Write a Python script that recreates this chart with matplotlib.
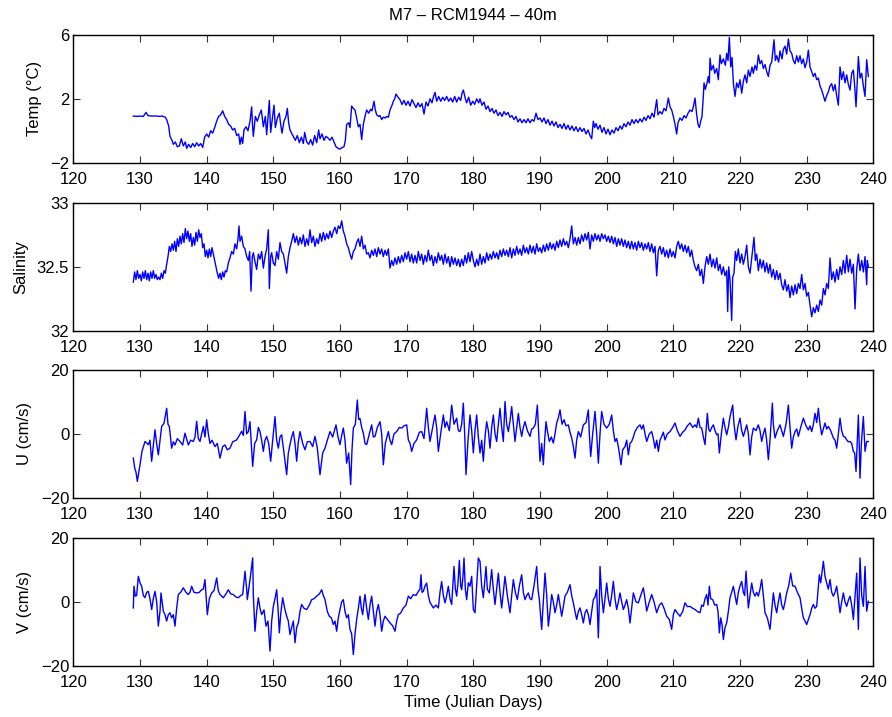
import numpy as np
import matplotlib
matplotlib.use('Agg')
import matplotlib.pyplot as plt

plt.rcParams['font.family'] = ['Liberation Sans', 'DejaVu Sans']
plt.rcParams['font.size'] = 12

# ---- data (Julian day, value) ----
temp_day = [129.0, 129.5, 130.0, 130.5, 130.9, 131.2, 131.8, 132.3, 132.8, 133.3, 133.8, 134.0, 134.3, 134.5, 134.8,
            135.0, 135.3, 135.6, 135.9, 136.2, 136.5, 136.8, 137.0, 137.3, 137.6, 137.9, 138.2, 138.5, 138.8, 139.1,
            139.4, 139.7, 140.0, 140.3, 140.6, 140.9, 141.2, 141.5, 141.8, 142.1, 142.4, 142.7, 143.0, 143.3, 143.6,
            143.9, 144.2, 144.5, 144.8, 145.0, 145.2, 145.4, 145.6, 145.9, 146.2, 146.5, 146.75, 146.9, 147.0, 147.3,
            147.6, 147.9, 148.2, 148.5, 148.8, 149.0, 149.2, 149.4, 149.6, 149.9, 150.1, 150.3, 150.6, 150.9, 151.1,
            151.3, 151.6, 151.9, 152.1, 152.3, 152.5, 152.8, 153.0, 153.3, 153.6, 153.9, 154.2, 154.5, 154.7, 155.0,
            155.3, 155.6, 155.9, 156.2, 156.5, 156.8, 157.0, 157.3, 157.6, 157.9, 158.2, 158.5, 158.8, 159.1, 159.4,
            159.7, 160.0, 160.3, 160.6, 160.8, 161.0, 161.3, 161.5, 161.75, 162.0, 162.25, 162.5, 162.75, 163.0, 163.25,
            163.5, 163.75, 164.0, 164.3, 164.6, 164.8, 165.1, 165.3, 165.5, 165.8, 166.0, 166.25, 166.5, 166.8, 167.0,
            167.25, 167.5, 167.8, 168.0, 168.2, 168.4, 168.7, 169.0, 169.3, 169.6, 169.9, 170.2, 170.5, 170.8, 171.1,
            171.4, 171.7, 172.0, 172.3, 172.6, 172.9, 173.2, 173.5, 173.8, 174.0, 174.25, 174.5, 174.8, 175.1, 175.4,
            175.7, 176.0, 176.3, 176.6, 176.9, 177.2, 177.5, 177.8, 178.1, 178.3, 178.5, 178.8, 179.0, 179.3, 179.6,
            179.9, 180.2, 180.5, 180.8, 181.0, 181.3, 181.6, 181.9, 182.2, 182.5, 182.8, 183.1, 183.4, 183.7, 184.0,
            184.3, 184.6, 184.9, 185.2, 185.5, 185.8, 186.1, 186.4, 186.7, 187.0, 187.3, 187.6, 187.9, 188.2, 188.5,
            188.8, 189.1, 189.4, 189.7, 190.0, 190.3, 190.6, 190.9, 191.2, 191.5, 191.8, 192.1, 192.4, 192.7, 193.0,
            193.3, 193.6, 193.9, 194.2, 194.5, 194.8, 195.1, 195.4, 195.7, 196.0, 196.3, 196.6, 196.9, 197.2, 197.5,
            197.75, 198.0, 198.2, 198.4, 198.7, 199.0, 199.3, 199.6, 199.9, 200.2, 200.5, 200.8, 201.1, 201.4, 201.7,
            202.0, 202.3, 202.6, 202.9, 203.2, 203.5, 203.8, 204.1, 204.4, 204.7, 205.0, 205.3, 205.6, 205.9, 206.2,
            206.5, 206.8, 207.1, 207.5, 207.7, 208.0, 208.3, 208.6, 208.9, 209.25, 209.5, 209.75, 210.0, 210.25, 210.5,
            210.7, 211.0, 211.3, 211.6, 211.9, 212.2, 212.5, 212.8, 213.0, 213.25, 213.5, 213.7, 213.9, 214.1, 214.3,
            214.5, 214.6, 214.8, 215.0, 215.25, 215.4, 215.5, 215.7, 216.0, 216.2, 216.5, 216.75, 217.0, 217.2, 217.5,
            217.8, 218.0, 218.2, 218.4, 218.6, 218.8, 219.0, 219.25, 219.5, 219.75, 220.0, 220.25, 220.5, 220.75, 221.0,
            221.25, 221.5, 221.8, 222.0, 222.25, 222.5, 222.75, 223.0, 223.25, 223.5, 223.75, 224.0, 224.25, 224.5, 224.75,
            225.1, 225.3, 225.5, 225.8, 226.0, 226.3, 226.5, 226.75, 227.0, 227.25, 227.5, 227.75, 228.0, 228.25, 228.5,
            228.75, 229.0, 229.25, 229.5, 229.75, 230.0, 230.25, 230.5, 230.75, 231.0, 231.25, 231.5, 231.75, 232.0, 232.25,
            232.5, 232.75, 233.0, 233.25, 233.5, 233.75, 234.0, 234.25, 234.5, 234.75, 235.0, 235.25, 235.5, 235.75, 236.0,
            236.25, 236.5, 236.75, 237.0, 237.2, 237.4, 237.6, 237.75, 238.0, 238.25, 238.5, 238.75, 239.0, 239.25]
temp = [0.92, 0.90, 0.92, 0.90, 1.15, 0.95, 0.92, 0.93, 0.90, 0.92, 0.85, 0.70, 0.30, -0.35, -0.60,
        -0.85, -0.70, -1.00, -0.95, -0.50, -0.95, -0.70, -1.10, -0.85, -1.05, -0.80, -1.00, -0.75, -0.95, -0.80,
        -1.05, -0.40, -0.20, -0.40, 0.00, -0.15, 0.20, 0.60, 0.90, 1.00, 1.25, 0.90, 0.70, 0.40, 0.30,
        0.05, 0.15, -0.30, -0.20, -0.85, -0.40, -0.80, 0.05, 0.25, 0.00, 0.60, 1.50, 0.20, -0.35, 0.90,
        0.60, 1.00, 1.30, 0.25, 0.90, -0.25, 0.80, 1.90, -0.10, 0.90, 1.60, 0.20, 0.80, 1.10, 0.40,
        -0.15, 0.60, 0.90, 1.40, 0.50, 0.05, -0.20, -0.35, -0.60, -0.30, -0.75, -0.40, -0.80, -0.10, -0.70,
        -0.85, -0.55, -0.90, -0.30, -0.75, 0.05, -0.50, -0.20, -0.60, -0.35, -0.45, -0.60, -0.40, -0.70, -1.00,
        -1.10, -1.15, -1.05, -1.00, -0.60, 0.40, 0.50, 0.20, 1.55, 1.40, 1.30, 0.80, 0.25, 0.40, -0.55,
        0.40, 0.90, 1.30, 1.10, 1.35, 1.25, 1.85, 1.30, 1.00, 0.90, 0.95, 0.70, 0.85, 0.80, 0.90,
        0.85, 1.30, 1.60, 1.85, 2.00, 2.30, 2.10, 1.95, 1.65, 1.90, 1.60, 1.85, 1.55, 1.95, 1.70,
        1.45, 1.75, 1.50, 1.70, 1.05, 1.80, 1.55, 2.00, 1.75, 2.10, 2.40, 1.85, 2.15, 1.85, 2.10,
        1.90, 2.15, 1.85, 2.05, 1.80, 2.15, 1.80, 2.10, 1.90, 2.35, 2.55, 2.00, 1.75, 2.10, 1.60,
        1.85, 1.65, 2.00, 1.75, 2.00, 1.60, 1.80, 1.35, 1.55, 1.20, 1.40, 1.10, 1.30, 0.95, 1.15,
        0.90, 1.20, 1.00, 1.15, 0.85, 0.95, 0.70, 0.90, 0.55, 0.75, 0.50, 0.70, 0.50, 0.75, 0.50,
        0.70, 0.60, 1.10, 0.70, 0.80, 0.55, 0.80, 0.45, 0.70, 0.35, 0.60, 0.30, 0.55, 0.20, 0.40,
        0.15, 0.45, 0.10, 0.35, 0.05, 0.30, 0.00, 0.25, -0.05, 0.20, -0.05, 0.15, -0.20, 0.05, -0.30,
        -0.50, 0.60, 0.20, 0.45, 0.10, 0.35, -0.10, 0.20, -0.20, 0.10, -0.25, 0.05, -0.15, 0.20, 0.00,
        0.30, 0.10, 0.45, 0.25, 0.55, 0.35, 0.70, 0.45, 0.70, 0.50, 0.75, 0.55, 0.85, 0.65, 0.95,
        0.75, 1.10, 0.85, 1.95, 1.00, 1.20, 1.05, 1.40, 1.25, 2.05, 1.50, 1.30, 0.90, 0.40, -0.20,
        0.50, 0.80, 0.65, 0.95, 0.80, 1.10, 1.30, 1.20, 1.50, 2.05, 1.00, 0.40, 0.20, 0.60, 0.90,
        2.20, 3.00, 2.60, 2.90, 3.40, 3.00, 4.55, 3.80, 4.10, 3.60, 3.90, 3.20, 4.75, 4.20, 4.50,
        4.10, 4.85, 4.40, 5.85, 4.00, 4.60, 3.00, 2.15, 3.00, 2.70, 3.20, 2.35, 3.10, 3.50, 3.00,
        3.80, 3.40, 4.00, 3.60, 4.10, 3.80, 4.75, 4.20, 4.40, 3.90, 4.15, 3.70, 3.40, 4.10, 4.30,
        5.70, 4.40, 4.70, 4.30, 5.00, 4.50, 5.10, 5.30, 4.80, 5.75, 5.00, 4.85, 4.40, 4.20, 4.70,
        4.30, 4.70, 4.20, 4.50, 3.95, 4.30, 5.05, 4.00, 3.70, 3.40, 3.60, 3.20, 3.30, 2.80, 2.55,
        2.20, 1.85, 2.20, 2.45, 2.80, 2.95, 2.50, 2.90, 2.20, 1.60, 4.00, 3.20, 3.70, 3.00, 3.50,
        2.90, 2.55, 3.60, 3.80, 2.80, 1.50, 3.20, 4.65, 3.30, 3.60, 2.80, 2.15, 4.45, 3.40]

sal_day = [129.0, 129.2, 129.4, 129.6, 129.8, 130.0, 130.2, 130.4, 130.6, 130.8, 131.0, 131.2, 131.4, 131.6, 131.8,
           132.0, 132.2, 132.4, 132.6, 132.8, 133.0, 133.2, 133.4, 133.6, 133.8, 134.0, 134.2, 134.4, 134.6, 134.8,
           135.0, 135.2, 135.4, 135.6, 135.8, 136.0, 136.2, 136.4, 136.6, 136.8, 137.0, 137.2, 137.4, 137.6, 137.8,
           138.0, 138.2, 138.4, 138.6, 138.8, 139.0, 139.2, 139.4, 139.6, 139.8, 140.0, 140.2, 140.4, 140.6, 140.8,
           141.0, 141.2, 141.4, 141.6, 141.8, 142.0, 142.2, 142.4, 142.6, 142.8, 143.0, 143.25, 143.5, 143.75, 144.0,
           144.25, 144.5, 144.7, 144.85, 145.0, 145.25, 145.5, 145.75, 146.0, 146.25, 146.45, 146.65, 146.85, 147.0, 147.25,
           147.5, 147.75, 148.0, 148.25, 148.5, 148.75, 149.0, 149.25, 149.4, 149.6, 149.75, 150.0, 150.25, 150.5, 150.75,
           151.0, 151.25, 151.5, 151.75, 152.0, 152.25, 152.5, 152.75, 153.0, 153.25, 153.5, 153.75, 154.0, 154.25, 154.5,
           154.75, 155.0, 155.25, 155.5, 155.75, 156.0, 156.25, 156.5, 156.75, 157.0, 157.25, 157.5, 157.75, 158.0, 158.25,
           158.5, 158.75, 159.0, 159.25, 159.5, 159.75, 160.0, 160.25, 160.5, 160.75, 161.0, 161.25, 161.5, 161.75, 162.0,
           162.25, 162.5, 162.75, 163.0, 163.25, 163.5, 163.75, 164.0, 164.25, 164.5, 164.75, 165.0, 165.25, 165.5, 165.75,
           166.0, 166.25, 166.5, 166.75, 167.0, 167.25, 167.5, 167.75, 168.0, 168.25, 168.5, 168.75, 169.0, 169.25, 169.5,
           169.75, 170.0, 170.25, 170.5, 170.75, 171.0, 171.25, 171.5, 171.75, 172.0, 172.25, 172.5, 172.75, 173.0, 173.25,
           173.5, 173.75, 174.0, 174.25, 174.5, 174.75, 175.0, 175.25, 175.5, 175.75, 176.0, 176.25, 176.5, 176.75, 177.0,
           177.25, 177.5, 177.75, 178.0, 178.25, 178.5, 178.75, 179.0, 179.25, 179.5, 179.75, 180.0, 180.25, 180.5, 180.75,
           181.0, 181.25, 181.5, 181.75, 182.0, 182.25, 182.5, 182.75, 183.0, 183.25, 183.5, 183.75, 184.0, 184.25, 184.5,
           184.75, 185.0, 185.25, 185.5, 185.75, 186.0, 186.25, 186.5, 186.75, 187.0, 187.25, 187.5, 187.75, 188.0, 188.25,
           188.5, 188.75, 189.0, 189.25, 189.5, 189.75, 190.0, 190.25, 190.5, 190.75, 191.0, 191.25, 191.5, 191.75, 192.0,
           192.25, 192.5, 192.75, 193.0, 193.25, 193.5, 193.75, 194.0, 194.25, 194.5, 194.75, 195.0, 195.25, 195.5, 195.75,
           196.0, 196.25, 196.5, 196.75, 197.0, 197.25, 197.5, 197.75, 198.0, 198.25, 198.5, 198.75, 199.0, 199.25, 199.5,
           199.75, 200.0, 200.25, 200.5, 200.75, 201.0, 201.25, 201.5, 201.75, 202.0, 202.25, 202.5, 202.75, 203.0, 203.25,
           203.5, 203.75, 204.0, 204.25, 204.5, 204.75, 205.0, 205.25, 205.5, 205.75, 206.0, 206.25, 206.5, 206.75, 207.0,
           207.25, 207.5, 207.75, 208.0, 208.25, 208.5, 208.75, 209.0, 209.25, 209.5, 209.75, 210.0, 210.25, 210.5, 210.75,
           211.0, 211.25, 211.5, 211.75, 212.0, 212.25, 212.5, 212.75, 213.0, 213.25, 213.5, 213.75, 214.0, 214.25, 214.5,
           214.75, 215.0, 215.25, 215.5, 215.75, 216.0, 216.25, 216.5, 216.75, 217.0, 217.25, 217.5, 217.75, 218.0, 218.15,
           218.3, 218.5, 218.75, 218.9, 219.1, 219.3, 219.5, 219.75, 220.0, 220.25, 220.5, 220.75, 221.0, 221.25, 221.5,
           221.75, 222.1, 222.3, 222.5, 222.75, 223.0, 223.25, 223.5, 223.75, 224.0, 224.25, 224.5, 224.75, 225.0, 225.25,
           225.5, 225.75, 226.0, 226.25, 226.5, 226.75, 227.0, 227.25, 227.5, 227.75, 228.0, 228.25, 228.5, 228.75, 229.0,
           229.25, 229.5, 229.75, 230.0, 230.25, 230.5, 230.75, 231.0, 231.25, 231.5, 231.75, 232.0, 232.25, 232.5, 232.75,
           233.0, 233.25, 233.5, 233.75, 234.0, 234.25, 234.5, 234.75, 235.0, 235.25, 235.5, 235.75, 236.0, 236.25, 236.5,
           236.75, 237.0, 237.25, 237.5, 237.75, 238.0, 238.25, 238.5, 238.75, 239.0, 239.1, 239.25]
salinity = [32.38, 32.46, 32.40, 32.47, 32.41, 32.44, 32.39, 32.46, 32.41, 32.47, 32.40, 32.45, 32.39, 32.46, 32.41,
            32.47, 32.41, 32.44, 32.40, 32.42, 32.40, 32.45, 32.41, 32.47, 32.45, 32.52, 32.58, 32.66, 32.62, 32.68,
            32.63, 32.70, 32.62, 32.72, 32.66, 32.74, 32.68, 32.76, 32.69, 32.80, 32.72, 32.78, 32.70, 32.76, 32.66,
            32.73, 32.67, 32.77, 32.70, 32.79, 32.73, 32.76, 32.65, 32.68, 32.58, 32.63, 32.57, 32.64, 32.58, 32.65,
            32.60, 32.55, 32.50, 32.45, 32.41, 32.45, 32.40, 32.46, 32.42, 32.47, 32.46, 32.53, 32.57, 32.62, 32.60,
            32.68, 32.64, 32.72, 32.82, 32.70, 32.74, 32.66, 32.64, 32.58, 32.55, 32.62, 32.31, 32.58, 32.61, 32.54,
            32.48, 32.60, 32.56, 32.62, 32.49, 32.58, 32.64, 32.79, 32.33, 32.58, 32.61, 32.53, 32.51, 32.62, 32.56,
            32.69, 32.62, 32.60, 32.53, 32.45, 32.58, 32.65, 32.70, 32.76, 32.69, 32.74, 32.67, 32.73, 32.68, 32.75,
            32.66, 32.72, 32.67, 32.79, 32.69, 32.74, 32.66, 32.72, 32.68, 32.76, 32.70, 32.77, 32.71, 32.76, 32.72,
            32.78, 32.73, 32.78, 32.81, 32.76, 32.82, 32.80, 32.86, 32.78, 32.74, 32.68, 32.65, 32.60, 32.56, 32.62,
            32.64, 32.69, 32.72, 32.66, 32.74, 32.64, 32.67, 32.60, 32.61, 32.57, 32.63, 32.59, 32.64, 32.58, 32.65,
            32.60, 32.64, 32.58, 32.63, 32.59, 32.64, 32.49, 32.55, 32.51, 32.57, 32.52, 32.58, 32.53, 32.59, 32.54,
            32.61, 32.56, 32.62, 32.54, 32.60, 32.53, 32.59, 32.53, 32.62, 32.55, 32.60, 32.52, 32.59, 32.54, 32.63,
            32.55, 32.59, 32.51, 32.58, 32.53, 32.61, 32.55, 32.59, 32.52, 32.60, 32.53, 32.58, 32.50, 32.58, 32.52,
            32.57, 32.51, 32.56, 32.50, 32.56, 32.51, 32.59, 32.53, 32.61, 32.54, 32.62, 32.55, 32.50, 32.56, 32.51,
            32.60, 32.52, 32.58, 32.53, 32.61, 32.55, 32.60, 32.56, 32.62, 32.57, 32.61, 32.56, 32.63, 32.58, 32.64,
            32.59, 32.63, 32.58, 32.65, 32.57, 32.64, 32.59, 32.66, 32.60, 32.64, 32.59, 32.67, 32.61, 32.65, 32.60,
            32.67, 32.61, 32.66, 32.60, 32.68, 32.62, 32.65, 32.61, 32.67, 32.62, 32.68, 32.63, 32.69, 32.64, 32.68,
            32.63, 32.70, 32.65, 32.71, 32.66, 32.72, 32.67, 32.70, 32.65, 32.72, 32.82, 32.68, 32.73, 32.67, 32.73,
            32.68, 32.75, 32.70, 32.76, 32.71, 32.77, 32.64, 32.75, 32.70, 32.76, 32.71, 32.75, 32.70, 32.76, 32.72,
            32.75, 32.70, 32.74, 32.69, 32.74, 32.68, 32.73, 32.66, 32.72, 32.67, 32.72, 32.66, 32.71, 32.65, 32.70,
            32.64, 32.70, 32.64, 32.69, 32.63, 32.70, 32.65, 32.69, 32.63, 32.68, 32.64, 32.69, 32.62, 32.68, 32.61,
            32.66, 32.43, 32.63, 32.66, 32.60, 32.65, 32.58, 32.63, 32.57, 32.64, 32.58, 32.62, 32.57, 32.66, 32.70,
            32.64, 32.68, 32.62, 32.67, 32.61, 32.66, 32.58, 32.63, 32.55, 32.50, 32.47, 32.52, 32.43, 32.48, 32.37,
            32.50, 32.58, 32.52, 32.60, 32.50, 32.56, 32.49, 32.57, 32.47, 32.52, 32.44, 32.50, 32.43, 32.47, 32.15,
            32.50, 32.40, 32.08, 32.42, 32.45, 32.62, 32.55, 32.64, 32.53, 32.60, 32.52, 32.58, 32.67, 32.50, 32.45,
            32.57, 32.73, 32.55, 32.60, 32.47, 32.56, 32.49, 32.55, 32.46, 32.53, 32.45, 32.52, 32.42, 32.48, 32.40,
            32.47, 32.40, 32.45, 32.36, 32.32, 32.40, 32.31, 32.36, 32.26, 32.35, 32.28, 32.36, 32.29, 32.37, 32.33,
            32.44, 32.32, 32.37, 32.27, 32.30, 32.20, 32.11, 32.18, 32.14, 32.20, 32.15, 32.24, 32.20, 32.33, 32.28,
            32.37, 32.33, 32.57, 32.40, 32.46, 32.38, 32.48, 32.40, 32.50, 32.44, 32.55, 32.45, 32.59, 32.46, 32.56,
            32.45, 32.52, 32.17, 32.48, 32.60, 32.47, 32.55, 32.46, 32.58, 32.36, 32.55, 32.50]

u_day = [129.0, 129.2, 129.4, 129.6, 130.0, 130.3, 130.75, 131.25, 131.5, 131.75, 132.25, 132.5, 132.75, 133.25, 133.6,
         134.0, 134.2, 134.4, 134.75, 135.0, 135.25, 135.6, 136.0, 136.4, 136.75, 137.25, 137.6, 138.0, 138.25, 138.5,
         138.75, 139.0, 139.5, 139.75, 140.0, 140.25, 140.5, 140.8, 141.25, 141.6, 142.0, 142.4, 142.75, 143.1, 143.5,
         143.9, 144.5, 144.9, 145.25, 145.5, 145.75, 146.0, 146.25, 146.5, 146.9, 147.2, 147.5, 147.75, 148.0, 148.25,
         148.5, 148.75, 149.0, 149.3, 149.6, 149.9, 150.25, 150.5, 150.75, 151.0, 151.25, 151.6, 152.0, 152.25, 152.5,
         152.75, 153.0, 153.25, 153.5, 153.75, 154.0, 154.4, 154.75, 155.1, 155.5, 155.9, 156.25, 156.6, 157.0, 157.4,
         157.75, 158.1, 158.5, 158.9, 159.4, 159.7, 160.0, 160.25, 160.5, 160.75, 161.0, 161.3, 161.6, 161.8, 162.0,
         162.3, 162.6, 162.8, 163.0, 163.25, 163.5, 163.75, 164.0, 164.4, 164.75, 165.0, 165.25, 165.6, 166.0, 166.25,
         166.5, 166.8, 167.25, 167.5, 167.75, 168.1, 168.5, 168.9, 169.25, 169.6, 170.0, 170.25, 170.5, 170.75, 171.1,
         171.5, 171.9, 172.25, 172.6, 173.0, 173.25, 173.5, 173.9, 174.25, 174.5, 174.75, 175.1, 175.5, 175.75, 176.0,
         176.4, 176.75, 177.1, 177.5, 177.75, 178.0, 178.25, 178.5, 178.7, 178.9, 179.2, 179.5, 179.75, 180.0, 180.25,
         180.5, 180.75, 181.0, 181.25, 181.5, 181.75, 182.0, 182.25, 182.5, 182.75, 183.0, 183.25, 183.5, 183.75, 184.0,
         184.25, 184.5, 184.75, 185.0, 185.25, 185.5, 185.75, 186.0, 186.25, 186.5, 186.75, 187.0, 187.25, 187.5, 187.75,
         188.1, 188.5, 188.75, 189.0, 189.3, 189.6, 189.8, 190.0, 190.25, 190.5, 190.7, 190.9, 191.1, 191.4, 191.7,
         192.0, 192.25, 192.5, 192.75, 193.0, 193.3, 193.6, 193.9, 194.25, 194.5, 194.75, 195.0, 195.25, 195.5, 195.75,
         196.1, 196.5, 196.9, 197.25, 197.4, 197.6, 197.9, 198.25, 198.5, 198.75, 199.0, 199.25, 199.6, 200.0, 200.4,
         200.75, 201.0, 201.25, 201.5, 201.75, 202.15, 202.4, 202.75, 203.0, 203.25, 203.5, 203.75, 204.0, 204.25, 204.6,
         205.0, 205.25, 205.5, 205.75, 206.0, 206.4, 206.75, 207.0, 207.25, 207.5, 207.75, 208.0, 208.25, 208.5, 208.75,
         209.1, 209.5, 209.9, 210.25, 210.6, 211.0, 211.4, 211.75, 212.1, 212.5, 212.9, 213.25, 213.5, 213.75, 214.0,
         214.25, 214.5, 214.75, 215.1, 215.3, 215.5, 215.75, 216.0, 216.25, 216.5, 216.7, 216.9, 217.2, 217.5, 217.75,
         218.0, 218.25, 218.5, 218.9, 219.1, 219.4, 219.7, 220.0, 220.25, 220.5, 220.75, 221.0, 221.25, 221.5, 221.75,
         222.0, 222.4, 222.75, 223.0, 223.25, 223.5, 223.75, 224.0, 224.25, 224.5, 224.85, 225.0, 225.25, 225.6, 226.0,
         226.25, 226.5, 226.9, 227.25, 227.5, 227.75, 228.0, 228.25, 228.5, 228.75, 229.1, 229.5, 229.9, 230.25, 230.5,
         230.75, 231.0, 231.25, 231.5, 231.75, 232.0, 232.25, 232.5, 232.75, 233.0, 233.25, 233.6, 234.0, 234.25, 234.5,
         234.75, 235.0, 235.25, 235.5, 235.75, 236.0, 236.25, 236.5, 236.75, 237.0, 237.2, 237.4, 237.6, 237.75, 237.9,
         238.0, 238.2, 238.5, 238.75, 239.0, 239.25]
u_vel = [-7.6, -10.7, -12.0, -14.9, -9.7, -5.5, -2.4, -3.4, -2.0, -8.6, 1.25, -3.0, -6.6, 2.3, 3.3,
         8.0, 3.0, 2.3, -4.5, -2.5, -3.5, -1.5, -2.4, -3.5, 0.2, -3.5, -2.0, -2.4, -1.0, 3.9,
         -1.5, -2.4, 2.3, -1.0, 4.4, 0.0, -3.0, -2.0, -4.0, -3.0, -7.6, -4.0, -3.5, -5.0, -4.5,
         -2.5, -1.9, -0.5, 0.8, -0.5, 7.0, 0.0, 0.7, 3.8, -10.2, -3.0, -1.9, 2.0, 0.7, -2.0,
         -5.5, -2.0, -0.8, -3.0, -8.6, -2.0, 5.4, -2.0, -4.5, -1.0, -0.3, -6.0, -12.8, -6.0, -3.4,
         -1.0, 0.7, -3.0, -8.6, -2.5, 0.7, -3.0, -5.0, -2.5, -2.4, -4.0, -0.8, -4.5, -12.8, -6.0,
         -4.5, -2.0, 0.7, -1.0, 2.8, -1.0, -3.4, -0.5, 1.8, -2.0, -9.2, -6.0, -15.9, -5.0, 1.8,
         3.0, 10.6, 4.5, 4.8, 2.0, 0.2, -3.0, -3.4, 0.0, 2.8, -1.0, -0.8, 2.0, 3.8, 0.0,
         -9.7, -3.0, 0.7, -2.0, -3.4, 0.0, 0.7, 2.0, 1.8, 2.5, 2.8, -1.9, -3.0, -5.5, -3.0,
         -1.9, 0.5, 0.7, -1.5, 8.0, 2.0, -2.4, 2.0, 5.9, 2.0, -5.5, 0.0, 5.9, 2.0, 3.8,
         1.0, 9.0, 3.0, 4.9, 1.0, 0.7, 3.0, 9.6, 0.0, -12.8, -2.0, 5.9, 1.0, -6.0, 1.0,
         5.9, -1.0, -6.0, -2.0, -8.6, -1.0, 3.8, 1.0, -4.5, 2.0, 5.9, 0.0, -2.4, 3.0, 8.0,
         2.0, -2.4, 10.1, 3.0, 0.7, 4.0, 8.5, 3.0, -2.4, 2.0, 6.4, 2.0, -0.8, 2.0, 3.8,
         1.0, -0.8, 1.5, 1.8, 3.0, 9.0, 0.0, -8.6, -3.0, -9.7, -2.0, 3.8, 1.0, -2.4, -1.0,
         -2.9, 0.0, 3.4, 5.0, 7.5, 3.0, 4.4, 2.5, 2.8, 0.5, -1.3, -4.0, -7.6, -2.0, 0.7,
         -1.0, 2.8, 3.5, 7.5, 0.0, -7.1, 0.0, 7.0, 0.0, -9.2, 0.0, 7.0, 3.0, 1.8, 3.0,
         5.9, 1.0, -2.4, -1.5, -4.0, -9.7, -5.0, -4.0, -2.0, -6.6, -3.0, -2.4, -1.0, 0.7, 2.0,
         2.8, 1.5, 2.8, 0.0, -2.4, 0.0, 0.7, -1.5, -4.5, -2.0, -5.5, -2.0, -0.8, 0.5, -1.9,
         0.0, 0.7, 2.0, 3.4, 1.0, -0.8, 0.5, 1.2, 2.5, 3.4, 2.0, 2.8, 2.0, 4.9, 2.0,
         1.8, -1.0, -3.4, 6.4, 1.5, 0.7, 2.0, 2.8, 1.0, -0.3, 0.0, -6.0, 0.0, 4.9, 2.0,
         -0.3, 2.0, 5.4, 9.0, 3.0, -1.9, 2.5, 4.9, 1.0, -0.8, 1.0, 2.8, 0.0, -6.6, -1.0,
         1.8, 1.0, 2.8, 1.0, -2.4, 0.0, 1.8, -2.0, -8.1, -2.0, 9.6, 3.0, -1.3, 1.0, 2.8,
         1.0, -0.8, 3.0, 9.0, 2.0, -4.5, -1.0, 0.7, 1.5, -0.8, 2.0, 4.9, 2.5, 1.2, 2.5,
         0.7, 3.0, 6.4, 3.5, 8.0, 3.0, -0.3, 1.5, 3.4, 1.5, 2.3, 1.0, -1.3, -2.0, -4.5,
         0.0, 4.9, 1.0, -0.8, -1.0, -1.9, -2.5, -2.4, -3.0, -5.5, -6.0, -11.8, -2.0, 5.9, -5.0,
         -13.9, -3.0, 5.4, -5.5, -2.4, -2.4]

v_day = [129.0, 129.1, 129.3, 129.5, 129.75, 130.0, 130.25, 130.5, 130.75, 131.0, 131.25, 131.5, 131.75, 132.0, 132.25,
         132.5, 132.75, 133.0, 133.15, 133.5, 133.75, 134.0, 134.25, 134.5, 134.75, 135.0, 135.25, 135.5, 135.75, 136.1,
         136.5, 136.9, 137.25, 137.5, 137.75, 138.1, 138.5, 138.9, 139.25, 139.5, 139.75, 140.1, 140.4, 140.75, 141.1,
         141.5, 141.75, 142.0, 142.5, 142.9, 143.25, 143.6, 144.0, 144.4, 144.75, 145.1, 145.4, 145.75, 146.0, 146.1,
         146.5, 146.9, 147.0, 147.25, 147.5, 147.75, 148.0, 148.25, 148.6, 148.9, 149.2, 149.5, 149.75, 150.0, 150.25,
         150.5, 150.7, 150.9, 151.1, 151.4, 151.7, 152.0, 152.25, 152.5, 152.75, 153.0, 153.25, 153.5, 153.75, 154.0,
         154.25, 154.6, 155.0, 155.4, 155.75, 156.1, 156.5, 156.9, 157.25, 157.5, 157.75, 158.1, 158.4, 158.7, 159.0,
         159.25, 159.5, 159.75, 160.0, 160.25, 160.5, 160.75, 161.0, 161.25, 161.5, 161.75, 162.0, 162.25, 162.5, 162.75,
         163.0, 163.2, 163.4, 163.6, 163.75, 164.0, 164.25, 164.5, 164.75, 165.0, 165.25, 165.5, 165.75, 166.0, 166.25,
         166.5, 166.75, 167.1, 167.5, 167.9, 168.25, 168.5, 168.75, 169.1, 169.5, 169.9, 170.25, 170.6, 171.0, 171.4,
         171.75, 172.0, 172.15, 172.3, 172.5, 172.75, 173.0, 173.25, 173.5, 173.75, 174.0, 174.4, 174.75, 175.0, 175.25,
         175.5, 175.75, 176.0, 176.25, 176.5, 176.75, 177.1, 177.3, 177.5, 177.7, 177.9, 178.1, 178.25, 178.45, 178.6,
         178.8, 179.0, 179.25, 179.5, 179.75, 180.0, 180.25, 180.5, 180.75, 181.0, 181.25, 181.5, 181.9, 182.1, 182.4,
         182.75, 183.0, 183.25, 183.5, 183.75, 184.0, 184.25, 184.5, 184.75, 185.1, 185.5, 185.75, 186.0, 186.3, 186.6,
         186.9, 187.25, 187.5, 187.75, 188.0, 188.25, 188.5, 188.75, 189.1, 189.5, 189.7, 189.9, 190.25, 190.5, 190.75,
         191.0, 191.25, 191.5, 191.75, 192.0, 192.25, 192.5, 192.75, 193.0, 193.25, 193.5, 193.75, 194.1, 194.5, 194.75,
         195.0, 195.25, 195.5, 195.75, 196.0, 196.25, 196.5, 196.75, 197.0, 197.25, 197.5, 197.75, 198.0, 198.25, 198.5,
         198.75, 198.9, 199.0, 199.25, 199.5, 199.75, 200.0, 200.25, 200.5, 200.75, 201.0, 201.25, 201.5, 201.75, 202.0,
         202.25, 202.5, 202.75, 203.0, 203.25, 203.5, 203.75, 204.0, 204.4, 204.75, 205.1, 205.5, 205.75, 206.0, 206.4,
         206.75, 207.1, 207.5, 207.9, 208.25, 208.6, 209.0, 209.4, 209.75, 210.0, 210.25, 210.6, 211.0, 211.4, 211.75,
         212.1, 212.5, 212.9, 213.25, 213.6, 214.0, 214.25, 214.5, 214.75, 215.0, 215.2, 215.4, 215.6, 215.9, 216.2,
         216.5, 216.7, 216.9, 217.1, 217.3, 217.5, 217.75, 218.0, 218.25, 218.5, 218.75, 219.0, 219.25, 219.5, 219.75,
         220.0, 220.25, 220.5, 220.7, 220.9, 221.1, 221.25, 221.5, 221.75, 222.0, 222.25, 222.5, 222.75, 223.0, 223.25,
         223.5, 223.75, 224.1, 224.5, 224.75, 225.0, 225.25, 225.5, 225.75, 226.0, 226.25, 226.5, 226.75, 227.0, 227.3,
         227.6, 227.9, 228.25, 228.6, 229.0, 229.25, 229.5, 229.75, 230.0, 230.25, 230.5, 230.75, 231.0, 231.25, 231.5,
         231.75, 231.9, 232.1, 232.5, 232.75, 233.0, 233.25, 233.5, 233.75, 234.0, 234.25, 234.5, 234.75, 235.0, 235.25,
         235.5, 235.75, 236.0, 236.25, 236.5, 236.75, 237.0, 237.25, 237.5, 237.75, 238.0, 238.25, 238.5, 238.75, 239.0,
         239.25]
v_vel = [-1.9, 4.9, 1.8, 2.0, 8.0, 6.0, 4.9, 2.0, 1.3, 3.0, 3.3, 1.0, -2.4, 1.0, 3.3,
         0.0, -7.6, -3.0, 2.8, -2.9, -4.0, -6.0, -4.0, -3.4, -5.0, -4.0, -7.6, -2.0, 2.3, 3.0,
         4.4, 3.0, 2.3, 3.0, 4.9, 3.0, 2.8, 3.0, 3.8, 4.0, 7.0, -4.0, 1.0, 2.8, 3.5,
         7.5, 3.5, 2.3, 1.3, 2.5, 3.8, 2.5, 2.3, 1.5, 1.3, 2.0, 2.3, 9.6, 4.0, 0.7,
         7.0, 13.75, 2.0, -9.2, -3.0, 1.3, -2.0, -4.0, -2.5, -7.6, -6.0, -15.4, -6.0, -1.4, 1.0,
         3.8, -2.0, -9.7, -4.0, 1.3, -2.0, -4.5, -6.0, -10.2, -8.0, -6.0, -12.8, -8.0, -6.6, -3.0,
         -0.8, -2.0, -2.4, -1.0, 0.7, 1.0, 1.8, 2.5, 3.8, 2.0, 0.7, -3.0, -4.5, -5.0, -7.1,
         -6.0, -9.2, -5.0, -2.4, 0.0, 0.7, -3.0, -5.0, -4.0, -8.6, -10.0, -16.5, -10.0, -5.5, -2.0,
         1.8, -2.0, -4.0, 0.0, 2.3, -2.0, -5.5, -1.0, 1.8, -3.0, -7.6, -3.0, -0.8, -4.0, -9.2,
         -6.0, -4.5, -5.5, -6.6, -7.5, -9.2, -6.0, -4.0, -3.5, -1.9, -1.0, 1.8, 1.0, 2.3, 2.0,
         3.3, 4.0, 8.5, 3.0, 3.3, 5.0, 5.9, 2.0, -0.2, -1.0, -1.9, -1.0, -1.9, 3.0, 6.4,
         2.0, -0.3, 2.0, 4.9, 1.0, -0.8, 11.1, 4.0, 1.8, 6.0, 13.0, 5.0, 3.8, 8.0, 13.75,
         4.0, 0.7, 6.0, 4.9, 8.0, -2.4, -3.4, 5.0, 13.75, 12.7, 5.0, 1.3, 11.1, 4.0, 2.8,
         10.1, 4.0, -0.8, 4.0, 9.0, 3.0, -1.9, 3.0, 8.0, 2.0, -3.4, 2.0, 7.0, 3.0, 0.7,
         5.0, 8.5, 3.0, 0.7, 2.0, 2.8, 1.0, 0.7, 5.0, 11.1, 4.0, 0.7, -8.6, 0.0, 9.0,
         2.0, -7.6, -3.0, 2.3, 0.0, -3.4, -1.0, 2.3, -1.0, -4.5, -1.5, 1.8, 3.0, 5.4, 2.0,
         -0.3, -3.0, -5.5, -3.0, -1.9, -4.0, -6.6, -3.5, -2.4, -4.0, -7.1, -3.0, 0.7, 1.5, 3.8,
         -11.25, 0.0, 11.1, 2.0, -3.4, 1.0, 5.9, 1.0, -1.4, 2.0, 6.4, 1.0, -2.4, 0.0, 2.8,
         0.0, -2.4, -1.0, 0.7, -2.0, -6.6, -2.0, 2.8, 0.0, -0.3, 2.0, 4.4, 1.0, -2.9, 0.0,
         2.3, 0.0, -3.4, -1.0, -0.3, -2.0, -4.5, -5.5, -8.6, -4.0, -2.4, -3.5, -4.5, -3.0, -0.3,
         -1.5, -1.4, -2.0, -2.4, -3.0, -3.4, -1.0, -1.4, 1.0, 2.3, -1.0, 4.9, 1.0, 0.7, -1.0,
         -0.8, -3.0, -9.7, -5.0, -7.0, -11.8, -8.0, -6.6, -3.0, 1.3, 3.0, 4.9, 2.0, -0.8, 3.0,
         5.0, 6.4, 3.0, 2.0, 9.6, 3.0, -1.9, 2.0, 5.9, 3.0, 1.8, 3.0, 1.8, 4.0, 7.0,
         2.0, -3.4, -5.0, -8.6, -3.0, 2.8, -1.0, -3.4, 0.0, 2.8, -1.0, -2.4, 0.0, 2.8, 5.0,
         9.0, 5.0, 4.9, 3.0, 1.3, -2.0, -5.0, -6.0, -7.1, -5.5, -4.0, -2.0, -0.8, -2.0, -1.4,
         5.0, 8.5, 6.0, 12.7, 8.0, 5.9, 4.0, 7.0, 3.0, 1.8, 3.0, 4.9, 1.0, -3.4, 0.0,
         2.8, 0.0, -1.4, 0.5, 1.8, -1.0, -5.5, 2.0, 9.0, -8.6, 13.75, 2.0, -1.4, 11.1, -2.9,
         0.2]

panels = [
    (temp_day, temp, 'Temp (°C)', (-2, 6), [-2, 2, 6]),
    (sal_day, salinity, 'Salinity', (32, 33), [32, 32.5, 33]),
    (u_day, u_vel, 'U (cm/s)', (-20, 20), [-20, 0, 20]),
    (v_day, v_vel, 'V (cm/s)', (-20, 20), [-20, 0, 20]),
]
day_ticks = list(range(120, 250, 10))

fig = plt.figure(figsize=(8.92, 7.17), dpi=100)
bottoms = [0.7731, 0.5388, 0.3059, 0.0715]

for k, (x, y, lab, lim, yt) in enumerate(panels):
    ax = fig.add_axes([0.0822, bottoms[k], 0.8969, 0.1781])
    ax.plot(x, y, color='#0000ff', lw=1.0)
    ax.set_xlim(120, 240)
    ax.set_ylim(*lim)
    ax.set_xticks(day_ticks)
    ax.set_yticks(yt)
    ax.set_yticklabels([('%g' % v).replace('-', '\u2212') for v in yt])
    ax.set_ylabel(lab, fontsize=12, labelpad=6)
    ax.tick_params(direction='in', top=True, right=True, length=5, width=0.8,
                   labelsize=12, color='#333333')
    ax.tick_params(axis='y', pad=3)
    ax.tick_params(axis='x', pad=7)
    for sp in ax.spines.values():
        sp.set_linewidth(1.0)
    if k == 0:
        ax.set_title('M7 \u2013 RCM1944 \u2013 40m', fontsize=12, pad=11)
    if k == 3:
        ax.set_xlabel('Time (Julian Days)', fontsize=12, labelpad=3)

fig.savefig('out.png', dpi=100)
